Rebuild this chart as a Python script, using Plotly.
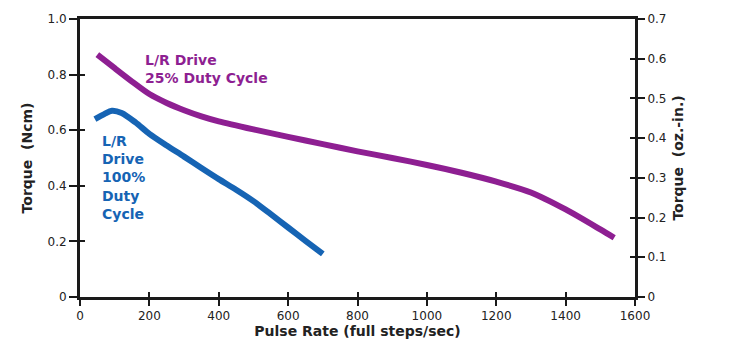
import plotly.graph_objects as go

# Data
x_25 = [50, 100, 150, 200, 250, 300, 350, 400, 500, 600, 700, 800, 900, 1000, 1100, 1200, 1300, 1400, 1500, 1540]
y_25 = [0.872, 0.823, 0.775, 0.73, 0.698, 0.672, 0.65, 0.632, 0.603, 0.576, 0.55, 0.524, 0.5, 0.475, 0.447, 0.415, 0.376, 0.315, 0.243, 0.213]

x_100 = [43, 70, 92, 120, 160, 200, 250, 300, 350, 400, 450, 500, 550, 600, 650, 700]
y_100 = [0.64, 0.658, 0.67, 0.662, 0.628, 0.587, 0.545, 0.505, 0.464, 0.424, 0.386, 0.345, 0.298, 0.25, 0.202, 0.155]

x_ticks = [0, 200, 400, 600, 800, 1000, 1200, 1400, 1600]
y_left_ticks = [0, 0.2, 0.4, 0.6, 0.8, 1.0]
y_left_labels = ["0", "0.2", "0.4", "0.6", "0.8", "1.0"]
y_right_ticks = [0, 0.1, 0.2, 0.3, 0.4, 0.5, 0.6, 0.7]
y_right_labels = ["0", "0.1", "0.2", "0.3", "0.4", "0.5", "0.6", "0.7"]

PURPLE = "#8E1F92"
BLUE = "#1664B4"
AX = "#1a1a1a"
TICKFONT = dict(family="DejaVu Sans, sans-serif", size=12, color="#222222")
TITLEFONT = dict(family="DejaVu Sans, sans-serif", size=14, color="#222222")
ANNFONT = "DejaVu Sans, sans-serif"

fig = go.Figure()
fig.add_trace(go.Scatter(x=x_25, y=y_25, mode="lines", line=dict(color=PURPLE, width=6),
                         line_shape="spline", line_smoothing=0.8, hoverinfo="skip"))
fig.add_trace(go.Scatter(x=x_100, y=y_100, mode="lines", line=dict(color=BLUE, width=6),
                         line_shape="spline", line_smoothing=0.8, hoverinfo="skip"))
# invisible helper traces so the extra tick axes get drawn
for xa, ya in [("x2", "y"), ("x", "y2"), ("x", "y3"), ("x", "y4")]:
    fig.add_trace(go.Scatter(x=[0], y=[0], xaxis=xa, yaxis=ya, mode="markers",
                             marker=dict(size=1, opacity=0), hoverinfo="skip"))

fig.update_layout(
    width=729, height=350,
    margin=dict(l=80, r=94, t=19, b=53),
    plot_bgcolor="white", paper_bgcolor="white",
    showlegend=False,
    xaxis=dict(range=[0, 1600], tickvals=x_ticks, ticks="outside", ticklen=6, tickwidth=2,
               tickcolor=AX, showline=True, linecolor=AX, linewidth=3, mirror=True,
               showgrid=False, zeroline=False, tickfont=TICKFONT,
               title=dict(text="<b>Pulse Rate (full steps/sec)</b>", font=TITLEFONT, standoff=2)),
    yaxis=dict(range=[0, 1.0], tickvals=y_left_ticks, ticktext=y_left_labels, ticks="outside",
               ticklen=8, tickwidth=2, tickcolor=AX, showline=True, linecolor=AX,
               linewidth=3, showgrid=False, zeroline=False, tickfont=TICKFONT,
               title=dict(text="<b>Torque  (Ncm)</b>", font=TITLEFONT, standoff=12)),
    xaxis2=dict(overlaying="x", anchor="y", side="bottom", range=[0, 1600], tickvals=x_ticks,
                ticks="inside", ticklen=5, tickwidth=2, tickcolor=AX, showticklabels=False,
                showline=False, showgrid=False, zeroline=False),
    yaxis2=dict(overlaying="y", side="right", anchor="x", range=[0, 0.7], tickvals=y_right_ticks,
                ticktext=y_right_labels, ticks="outside", ticklen=7, tickwidth=2, tickcolor=AX,
                showline=True, linecolor=AX, linewidth=3, showgrid=False, zeroline=False,
                tickfont=TICKFONT,
                title=dict(text="<b>Torque  (oz.-in.)</b>", font=TITLEFONT, standoff=8)),
    yaxis3=dict(overlaying="y", side="left", anchor="x", range=[0, 1.0], tickvals=y_left_ticks,
                ticks="inside", ticklen=5, tickwidth=2, tickcolor=AX, showticklabels=False,
                showline=False, showgrid=False, zeroline=False),
    yaxis4=dict(overlaying="y", side="right", anchor="x", range=[0, 0.7], tickvals=y_right_ticks,
                ticks="inside", ticklen=5, tickwidth=2, tickcolor=AX, showticklabels=False,
                showline=False, showgrid=False, zeroline=False),
    annotations=[
        dict(x=182, y=0.887, xref="x", yref="y", xanchor="left", yanchor="top", align="left",
             showarrow=False, text="<b>L/R Drive<br>25% Duty Cycle</b>",
             font=dict(family=ANNFONT, size=14, color=PURPLE)),
        dict(x=57, y=0.598, xref="x", yref="y", xanchor="left", yanchor="top", align="left",
             showarrow=False, text="<b>L/R<br>Drive<br>100%<br>Duty<br>Cycle</b>",
             font=dict(family=ANNFONT, size=14, color=BLUE)),
    ],
)

fig.write_html("out.html")
